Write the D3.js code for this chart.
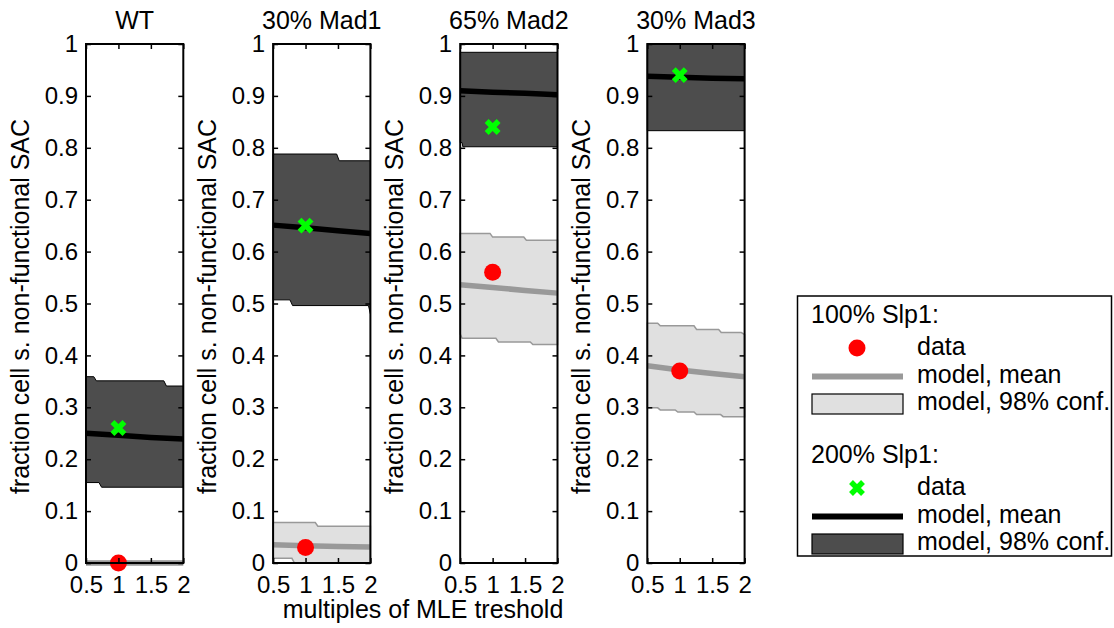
<!DOCTYPE html>
<html>
<head>
<meta charset="utf-8">
<script src="https://cdn.jsdelivr.net/npm/d3@7"></script>
<style>
  body { margin: 0; background: #fff; }
  text { font-family: "Liberation Sans", Arial, sans-serif; fill: #000; }
</style>
</head>
<body>
<div id="chart"></div>
<script>
// panels and ticks
var panels = ["WT", "30% Mad1", "65% Mad2", "30% Mad3"];
var xTicks = [0.5, 1, 1.5, 2];
var xTickLabels = ["0.5", "1", "1.5", "2"];
var yTicks = [0, 0.1, 0.2, 0.3, 0.4, 0.5, 0.6, 0.7, 0.8, 0.9, 1];
var yTickLabels = ["0", "0.1", "0.2", "0.3", "0.4", "0.5", "0.6", "0.7", "0.8", "0.9", "1"];

// measured data at MLE threshold (x = 1)
var dataX = 1;
var data100 = [0, 0.03, 0.56, 0.37];
var data200 = [0.26, 0.65, 0.84, 0.94];

// model means
var meanX = [0.5, 1, 1.5, 2];
var mean100 = [
  [0, 0, 0, 0],
  [0.035, 0.033, 0.032, 0.031],
  [0.536, 0.531, 0.525, 0.52],
  [0.38, 0.372, 0.365, 0.359]
];
var mean200 = [
  [0.25, 0.246, 0.242, 0.239],
  [0.651, 0.646, 0.64, 0.635],
  [0.91, 0.907, 0.905, 0.902],
  [0.938, 0.936, 0.934, 0.933]
];

// 98% confidence bands (upper / lower edges as [x, value])
var conf100Upper = [
  [[0.5, 0.003], [2, 0.003]],
  [[0.5, 0.078], [1.15, 0.078], [1.19, 0.071], [2, 0.071]],
  [[0.5, 0.635], [0.96, 0.635], [1.0, 0.628], [1.48, 0.628], [1.52, 0.622], [2, 0.622]],
  [[0.5, 0.462], [0.66, 0.462], [0.7, 0.457], [1.22, 0.457], [1.26, 0.45], [1.6, 0.45], [1.64, 0.444], [1.95, 0.444], [2, 0.44]]
];
var conf100Lower = [
  [[0.5, 0], [2, 0]],
  [[0.5, 0.009], [0.79, 0.009], [0.83, 0], [2, 0]],
  [[0.5, 0.441], [0.53, 0.433], [1.05, 0.433], [1.09, 0.426], [1.58, 0.426], [1.62, 0.421], [2, 0.421]],
  [[0.5, 0.299], [0.66, 0.299], [0.7, 0.295], [0.93, 0.295], [0.97, 0.291], [1.22, 0.291], [1.26, 0.286], [1.63, 0.286], [1.67, 0.282], [2, 0.282]]
];
var conf200Upper = [
  [[0.5, 0.359], [0.62, 0.359], [0.66, 0.351], [1.7, 0.351], [1.74, 0.341], [2, 0.341]],
  [[0.5, 0.788], [1.48, 0.788], [1.52, 0.775], [2, 0.775]],
  [[0.5, 0.984], [2, 0.984]],
  [[0.5, 1], [2, 1]]
];
var conf200Lower = [
  [[0.5, 0.155], [0.7, 0.155], [0.74, 0.146], [2, 0.146]],
  [[0.5, 0.507], [0.76, 0.507], [0.8, 0.496], [1.97, 0.496], [2, 0.48]],
  [[0.5, 0.81], [0.53, 0.81], [0.54, 0.802], [2, 0.802]],
  [[0.5, 0.833], [2, 0.833]]
];

var W = 1114, H = 628;
var plotTop = 44, plotBottom = 563, pw = 97.3, left0 = 86, gap = 187.1;
var lightFill = "#e0e0e0", lightEdge = "#999", darkFill = "#4d4d4d";

var svg = d3.select("#chart").append("svg").attr("width", W).attr("height", H);

var y = d3.scaleLinear().domain([0, 1]).range([plotBottom, plotTop]);

panels.forEach(function(name, i) {
  var x0 = left0 + i * gap;
  var x = d3.scaleLinear().domain([0.5, 2]).range([x0, x0 + pw]);
  var g = svg.append("g");

  var line = d3.line().x(function(d) { return x(d[0]); }).y(function(d) { return y(d[1]); });
  function band(up, lo) {
    return line(up.concat(lo.slice().reverse())) + "Z";
  }

  g.append("path").attr("d", band(conf100Upper[i], conf100Lower[i]))
    .attr("fill", lightFill).attr("stroke", lightEdge).attr("stroke-width", 1.5);
  g.append("path").attr("d", band(conf200Upper[i], conf200Lower[i]))
    .attr("fill", darkFill).attr("stroke", "#000").attr("stroke-width", 1);

  g.append("path").attr("d", line(meanX.map(function(v, k) { return [v, mean100[i][k]]; })))
    .attr("fill", "none").attr("stroke", "#999").attr("stroke-width", 5.5);
  g.append("path").attr("d", line(meanX.map(function(v, k) { return [v, mean200[i][k]]; })))
    .attr("fill", "none").attr("stroke", "#000").attr("stroke-width", 5.5);

  g.append("circle").attr("cx", x(dataX)).attr("cy", y(data100[i])).attr("r", 8.5).attr("fill", "#ff0000");
  g.append("path").attr("transform", "translate(" + x(dataX) + "," + y(data200[i]) + ")")
    .attr("d", "M-6,-6L6,6M-6,6L6,-6").attr("stroke", "#00ff00").attr("stroke-width", 5.5);

  // axes (MATLAB style box with inward ticks)
  var ax = g.append("g").attr("transform", "translate(0," + plotBottom + ")")
    .call(d3.axisBottom(x).tickValues(xTicks).tickSize(-5).tickPadding(13)
      .tickFormat(function(d, k) { return xTickLabels[k]; }));
  var axT = g.append("g").attr("transform", "translate(0," + plotTop + ")")
    .call(d3.axisTop(x).tickValues(xTicks).tickSize(-5).tickFormat(""));
  var ay = g.append("g").attr("transform", "translate(" + x0 + ",0)")
    .call(d3.axisLeft(y).tickValues(yTicks).tickSize(-5).tickPadding(8)
      .tickFormat(function(d, k) { return yTickLabels[k]; }));
  var ayR = g.append("g").attr("transform", "translate(" + (x0 + pw) + ",0)")
    .call(d3.axisRight(y).tickValues(yTicks).tickSize(-5).tickFormat(""));
  [ax, axT, ay, ayR].forEach(function(a) {
    a.select(".domain").remove();
    a.selectAll("line").attr("stroke", "#000").attr("stroke-width", 1.5);
    a.selectAll("text").style("font-size", "24px").style("font-family", "'Liberation Sans', Arial, sans-serif").attr("fill", "#000");
  });

  g.append("rect").attr("x", x0).attr("y", plotTop).attr("width", pw).attr("height", plotBottom - plotTop)
    .attr("fill", "none").attr("stroke", "#000").attr("stroke-width", 2);

  g.append("text").attr("x", x0 + pw / 2).attr("y", 29).attr("text-anchor", "middle")
    .style("font-size", "25px").text(name);
  g.append("text").attr("transform", "translate(" + (x0 - 57) + "," + ((plotTop + plotBottom) / 2 + 3) + ") rotate(-90)")
    .attr("text-anchor", "middle").style("font-size", "25px").text("fraction cell s. non-functional SAC");
});

svg.append("text").attr("x", 423).attr("y", 618).attr("text-anchor", "middle")
  .style("font-size", "25px").text("multiples of MLE treshold");

// legend
var legendGroups = ["100% Slp1:", "200% Slp1:"];
var legendItems = ["data", "model, mean", "model, 98% conf."];
var lg = svg.append("g");
lg.append("rect").attr("x", 797.5).attr("y", 296).attr("width", 314).attr("height", 260)
  .attr("fill", "#fff").attr("stroke", "#000").attr("stroke-width", 1.5);
var symX0 = 812, symX1 = 903, symC = 857, textX = 917;
legendGroups.forEach(function(label, gi) {
  var oy = gi * 140;
  lg.append("text").attr("x", 811).attr("y", 323 + oy).style("font-size", "25px").text(label);
  legendItems.forEach(function(item, k) {
    lg.append("text").attr("x", textX).attr("y", 355 + oy + k * 27.5).style("font-size", "25px").text(item);
  });
  if (gi === 0) {
    lg.append("circle").attr("cx", symC).attr("cy", 348 + oy).attr("r", 8.5).attr("fill", "#ff0000");
    lg.append("line").attr("x1", symX0).attr("x2", symX1).attr("y1", 376.5 + oy).attr("y2", 376.5 + oy)
      .attr("stroke", "#999").attr("stroke-width", 6);
    lg.append("rect").attr("x", symX0).attr("y", 394 + oy).attr("width", symX1 - symX0).attr("height", 20)
      .attr("fill", lightFill).attr("stroke", "#000").attr("stroke-width", 1.2);
  } else {
    lg.append("path").attr("transform", "translate(" + symC + "," + (348 + oy) + ")")
      .attr("d", "M-6,-6L6,6M-6,6L6,-6").attr("stroke", "#00ff00").attr("stroke-width", 5.5);
    lg.append("line").attr("x1", symX0).attr("x2", symX1).attr("y1", 376.5 + oy).attr("y2", 376.5 + oy)
      .attr("stroke", "#000").attr("stroke-width", 6);
    lg.append("rect").attr("x", symX0).attr("y", 394 + oy).attr("width", symX1 - symX0).attr("height", 20)
      .attr("fill", darkFill).attr("stroke", "#000").attr("stroke-width", 1.2);
  }
});
</script>
</body>
</html>
